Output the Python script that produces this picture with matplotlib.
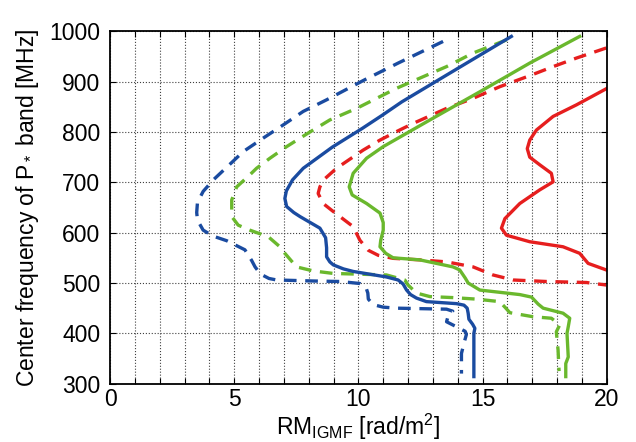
import matplotlib
matplotlib.use("Agg")
import matplotlib.pyplot as plt
from matplotlib.ticker import MultipleLocator

plt.rcParams['font.family'] = ['Liberation Sans', 'DejaVu Sans']
plt.rcParams['mathtext.fontset'] = 'custom'
plt.rcParams['mathtext.rm'] = 'Liberation Sans'
plt.rcParams['mathtext.it'] = 'Liberation Sans'

# curves: RM_IGMF [rad/m^2] vs centre frequency [MHz]
blue_solid_rm = [16.16, 13.68, 11.75, 10.95, 10.15, 8.95, 7.78, 7.35, 7.1, 7.04, 7.11, 7.4, 7.65, 8.45,
                 8.68, 8.72, 8.72, 8.85, 8.99, 9.4, 9.79, 11.13, 11.6, 11.8, 11.94, 12.1, 12.34, 12.74,
                 13.95, 14.25, 14.38, 14.42, 14.45, 14.6, 14.69, 14.65, 14.65]
blue_solid_f = [990, 917, 860, 833, 807, 770, 728, 705, 683, 668, 652, 640, 632, 609,
                590, 570, 552, 542, 536, 528, 523, 512, 506, 498, 486, 477, 470, 463,
                459, 456, 450, 440, 428, 418, 410, 400, 314]

blue_dash_rm = [13.41, 11.6, 10.26, 8.72, 7.78, 6.97, 6.17, 5.36, 4.87, 4.16, 3.75, 3.52, 3.49, 3.52,
                3.75, 4.16, 4.7, 5.43, 5.7, 5.84, 6.05, 6.4, 6.71, 8.18, 9.26, 10.06, 10.3, 10.38,
                10.4, 10.6, 11.0, 11.54, 13.55, 13.8, 13.6, 13.55, 13.95, 14.3, 14.35, 14.25, 14.15, 14.15]
blue_dash_f = [980, 937, 904, 864, 841, 814, 788, 761, 738, 705, 682, 660, 640, 625,
               605, 593, 584, 566, 545, 532, 518, 509, 506, 504, 503, 499, 492, 480,
               468, 457, 452, 450, 448, 444, 432, 423, 413, 404, 398, 380, 360, 320]

green_solid_rm = [18.91, 16.9, 14.89, 12.88, 11.0, 10.33, 9.79, 9.63, 9.75, 10.33, 10.87, 11.0, 11.0,
                  10.9, 10.87, 11.1, 11.4, 12.47, 13.81, 14.08, 14.3, 14.42, 14.89, 16.5, 16.97, 17.24,
                  17.44, 18.24, 18.51, 18.45, 18.4, 18.45, 18.35, 18.35]
green_solid_f = [990, 937, 880, 824, 771, 748, 718, 691, 675, 658, 639, 620, 605,
                 585, 572, 559, 550, 546, 532, 526, 510, 500, 486, 477, 472, 458,
                 450, 440, 430, 413, 400, 353, 340, 314]

green_dash_rm = [15.96, 14.62, 13.55, 12.61, 11.54, 9.93, 8.85, 7.98, 7.11, 6.44, 5.9, 5.63, 5.1, 4.9,
                 4.9, 5.16, 5.63, 6.37, 6.84, 7.04, 7.51, 8.18, 8.99, 11.13, 11.87, 12.0, 12.34, 12.88,
                 13.81, 14.75, 15.69, 15.9, 16.1, 17.03, 17.77, 18.11, 17.97, 18.04, 18.08]
green_dash_f = [983, 957, 930, 910, 887, 847, 824, 798, 771, 748, 728, 715, 691, 665,
                632, 615, 605, 592, 572, 559, 532, 524, 519, 516, 506, 496, 480, 473,
                471, 468, 463, 452, 441, 433, 430, 417, 403, 367, 325]

red_dash_rm = [19.98, 18.78, 17.84, 16.9, 15.69, 14.62, 13.55, 12.2, 11.54, 10.87, 10.19, 9.12, 8.6,
               8.45, 8.38, 8.58, 8.99, 9.79, 10.06, 10.4, 10.8, 11.4, 12.47, 13.55, 14.62, 15.42,
               16.23, 17.57, 19.18, 19.98]
red_dash_f = [967, 947, 930, 912, 890, 867, 847, 817, 801, 784, 764, 728, 705,
              691, 678, 658, 642, 612, 585, 565, 555, 549, 546, 542, 532, 516,
              506, 503, 501, 496]

red_solid_rm = [19.98, 18.78, 17.84, 17.17, 16.9, 16.8, 16.9, 17.3, 17.77, 17.84, 17.3, 16.5, 15.9,
                15.76, 15.96, 16.9, 18.24, 18.91, 19.25, 19.98]
red_solid_f = [886, 854, 831, 804, 784, 767, 750, 735, 718, 701, 685, 658, 628,
               609, 595, 582, 572, 559, 539, 526]

blue = '#1a4ba0'
green = '#6ab82d'
red = '#e61e1e'
dash = (0, (3.8, 2.6))

fig = plt.figure(figsize=(6.36, 4.42), dpi=100)
ax = fig.add_axes([0.173, 0.132, 0.781, 0.797])

ax.plot(blue_dash_rm, blue_dash_f, color=blue, lw=2.4, linestyle=dash)
ax.plot(green_dash_rm, green_dash_f, color=green, lw=2.4, linestyle=dash)
ax.plot(red_dash_rm, red_dash_f, color=red, lw=2.4, linestyle=dash)
ax.plot(blue_solid_rm, blue_solid_f, color=blue, lw=2.4)
ax.plot(green_solid_rm, green_solid_f, color=green, lw=2.4)
ax.plot(red_solid_rm, red_solid_f, color=red, lw=2.4)

ax.set_xlim(0, 20)
ax.set_ylim(300, 1000)
ax.xaxis.set_major_locator(MultipleLocator(5))
ax.xaxis.set_minor_locator(MultipleLocator(1))
ax.yaxis.set_major_locator(MultipleLocator(100))
ax.grid(which='both', color='0.25', linestyle=':', linewidth=0.8)
ax.tick_params(which='both', direction='in', top=True, right=True, length=4, width=0.8)
ax.tick_params(labelsize=16.5)
ax.tick_params(axis='y', pad=7)
ax.tick_params(axis='x', pad=3)
for s in ax.spines.values():
    s.set_linewidth(1.3)

ax.set_xlabel('RM$_{\\rm IGMF}$ [rad/m$^2$]', fontsize=16.5, labelpad=0.5)
ax.set_ylabel('Center frequency of P$_*$ band [MHz]', fontsize=16.5, labelpad=6)

fig.savefig('out.png', dpi=100)
